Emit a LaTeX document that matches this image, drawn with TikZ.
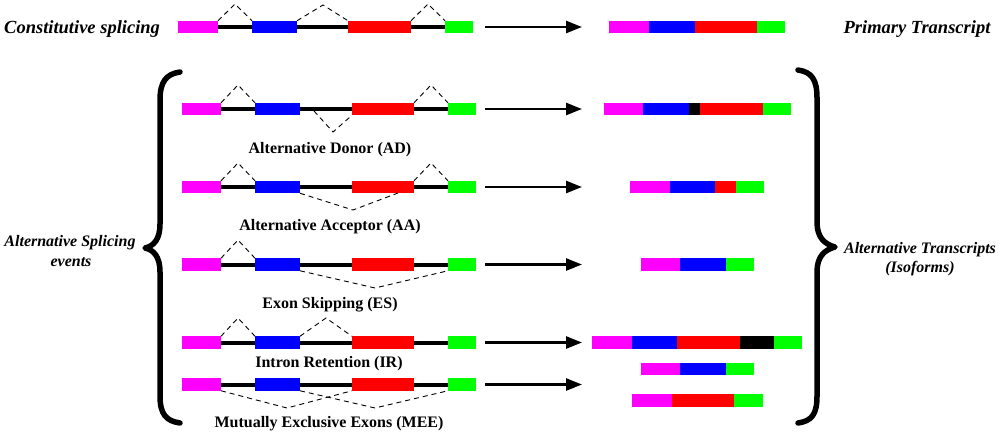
\documentclass[tikz,border=0pt]{standalone}
\usepackage{fontspec}
\setmainfont{Liberation Serif}
\usetikzlibrary{arrows.meta}
\definecolor{exmag}{RGB}{255,0,255}
\definecolor{exblue}{RGB}{0,0,255}
\definecolor{exred}{RGB}{255,0,0}
\definecolor{exgreen}{RGB}{0,255,0}
\newcommand{\seg}[5]{\node[seg,fill=#2,minimum width={(#4-#3)*1pt},anchor=west] (#1) at (#3,#5) {};}
\newcommand{\generow}[2]{%
  \seg{#1m}{exmag}{182}{221}{#2}
  \seg{#1b}{exblue}{255}{300}{#2}
  \seg{#1r}{exred}{352}{414}{#2}
  \seg{#1g}{exgreen}{448}{476}{#2}
  \draw[intron] (#1m.east) -- (#1b.west) (#1b.east) -- (#1r.west) (#1r.east) -- (#1g.west);
}
\begin{document}
\begin{tikzpicture}[x=1pt,y=-1pt,
  seg/.style={rectangle,draw=none,inner sep=0pt,outer sep=0pt,minimum height=12.5pt},
  intron/.style={line width=4pt,black},
  splice/.style={line width=0.9pt,dash pattern=on 5pt off 4pt},
  conv/.style={line width=2.5pt,-{Triangle[length=16pt,width=12pt]}},
  brace/.style={line width=5.5pt,line cap=round,line join=round},
  lab/.style={font=\fontsize{16}{19}\selectfont\bfseries,anchor=base,inner sep=0pt},
  side/.style={font=\fontsize{16}{19}\selectfont\bfseries\itshape,anchor=base,inner sep=0pt},
  topside/.style={side,font=\fontsize{18.5}{22}\selectfont\bfseries\itshape}]
\useasboundingbox (0,0) rectangle (1000,434);

% ---------- Constitutive splicing ----------
\node[topside,anchor=base west] (tconst) at (4,33) {Constitutive splicing};
\seg{cm}{exmag}{178}{218}{27}
\seg{cb}{exblue}{252}{297}{27}
\seg{cr}{exred}{348}{411}{27}
\seg{cg}{exgreen}{445}{473}{27}
\draw[intron] (cm.east) -- (cb.west) (cb.east) -- (cr.west) (cr.east) -- (cg.west);
\coordinate (cp1) at (235,4);
\coordinate (cp2) at (323,5);
\coordinate (cp3) at (428,4);
\draw[splice] (cm.north east) -- (cp1) -- (cb.north west);
\draw[splice] (cb.north east) -- (cp2) -- (cr.north west);
\draw[splice] (cr.north east) -- (cp3) -- (cg.north west);
\coordinate (ca0) at (485,27);
\coordinate (ca1) at (582,27);
\draw[conv] (ca0) -- (ca1);
\seg{tpm}{exmag}{609}{649}{27}
\seg{tpb}{exblue}{649}{695}{27}
\seg{tpr}{exred}{695}{757}{27}
\seg{tpg}{exgreen}{757}{785}{27}
\node[topside] (tprim) at (917,33) {Primary Transcript};

% ---------- Alternative Donor ----------
\generow{ad}{109}
\coordinate (adp1) at (238,85);
\coordinate (adp3) at (431,85);
\coordinate (adv0) at (314,111);
\coordinate (adv1) at (333,132);
\draw[splice] (adm.north east) -- (adp1) -- (adb.north west);
\draw[splice] (adr.north east) -- (adp3) -- (adg.north west);
\draw[splice] (adv0) -- (adv1) -- (adr.south west);
\node[lab] (tad) at (330,153) {Alternative Donor (AD)};
\coordinate (ada0) at (485,109);
\coordinate (ada1) at (582,109);
\draw[conv] (ada0) -- (ada1);
\seg{tadm}{exmag}{604}{643}{109}
\seg{tadb}{exblue}{643}{689}{109}
\seg{tadk}{black}{689}{700}{109}
\seg{tadr}{exred}{700}{763}{109}
\seg{tadg}{exgreen}{763}{791}{109}

% ---------- Alternative Acceptor ----------
\generow{aa}{187}
\coordinate (aap1) at (238,163);
\coordinate (aap3) at (431,163);
\coordinate (aav1) at (353,210);
\coordinate (aav2) at (398,193);
\draw[splice] (aam.north east) -- (aap1) -- (aab.north west);
\draw[splice] (aar.north east) -- (aap3) -- (aag.north west);
\draw[splice] (aab.south east) -- (aav1) -- (aav2);
\node[lab] (taa) at (330,230) {Alternative Acceptor (AA)};
\coordinate (aaa0) at (485,187);
\coordinate (aaa1) at (582,187);
\draw[conv] (aaa0) -- (aaa1);
\seg{taam}{exmag}{630}{670}{187}
\seg{taab}{exblue}{670}{715}{187}
\seg{taar}{exred}{715}{736}{187}
\seg{taag}{exgreen}{736}{764}{187}

% ---------- Exon Skipping ----------
\generow{es}{264.5}
\coordinate (esp1) at (238,240);
\coordinate (esv) at (375,288);
\draw[splice] (esm.north east) -- (esp1) -- (esb.north west);
\draw[splice] (esb.south east) -- (esv) -- (esg.south west);
\node[lab] (tes) at (330,308) {Exon Skipping (ES)};
\coordinate (esa0) at (485,264.5);
\coordinate (esa1) at (582,264.5);
\draw[conv] (esa0) -- (esa1);
\seg{tesm}{exmag}{641}{680}{264.5}
\seg{tesb}{exblue}{680}{726}{264.5}
\seg{tesg}{exgreen}{726}{754}{264.5}

% ---------- Intron Retention ----------
\generow{ir}{342.5}
\coordinate (irp1) at (238,318);
\coordinate (irp2) at (326,318);
\draw[splice] (irm.north east) -- (irp1) -- (irb.north west);
\draw[splice] (irb.north east) -- (irp2) -- (irr.north west);
\node[lab] (tir) at (329,367) {Intron Retention (IR)};
\coordinate (ira0) at (485,342.5);
\coordinate (ira1) at (582,342.5);
\draw[conv] (ira0) -- (ira1);
\seg{tirm}{exmag}{592}{632}{342.5}
\seg{tirb}{exblue}{632}{677}{342.5}
\seg{tirr}{exred}{677}{740}{342.5}
\seg{tirk}{black}{740}{774}{342.5}
\seg{tirg}{exgreen}{774}{802}{342.5}

% ---------- Mutually Exclusive Exons ----------
\generow{me}{384.5}
\coordinate (mev1) at (287,408);
\coordinate (mev2) at (375,408);
\draw[splice] (mem.south east) -- (mev1) -- (mer.south west);
\draw[splice] (meb.south east) -- (mev2) -- (meg.south west);
\node[lab] (tme) at (329,427) {Mutually Exclusive Exons (MEE)};
\coordinate (mea0) at (485,384.5);
\coordinate (mea1) at (582,384.5);
\draw[conv] (mea0) -- (mea1);
\seg{tm1m}{exmag}{641}{680}{369}
\seg{tm1b}{exblue}{680}{726}{369}
\seg{tm1g}{exgreen}{726}{754}{369}
\seg{tm2m}{exmag}{632}{672}{400.5}
\seg{tm2r}{exred}{672}{734}{400.5}
\seg{tm2g}{exgreen}{734}{763}{400.5}

% ---------- Braces ----------
\draw[brace] (180,72) .. controls (166,74) and (160,82) .. (160,100) -- (160,224)
  .. controls (160,239) and (154,246) .. (145,248)
  .. controls (154,250) and (160,257) .. (160,272) -- (160,396)
  .. controls (160,414) and (166,421) .. (180,423);
\draw[brace] (798,70) .. controls (812,72) and (817,80) .. (817,98) -- (817,222)
  .. controls (817,237) and (824,244) .. (835,247)
  .. controls (824,250) and (817,257) .. (817,272) -- (817,396)
  .. controls (817,414) and (812,421) .. (798,423);
\node[side] (tas1) at (70,246) {Alternative Splicing};
\node[side] (tas2) at (71,266) {events};
\node[side] (tat1) at (920,253) {Alternative Transcripts};
\node[side] (tat2) at (920,272) {(Isoforms)};
\end{tikzpicture}
\end{document}
